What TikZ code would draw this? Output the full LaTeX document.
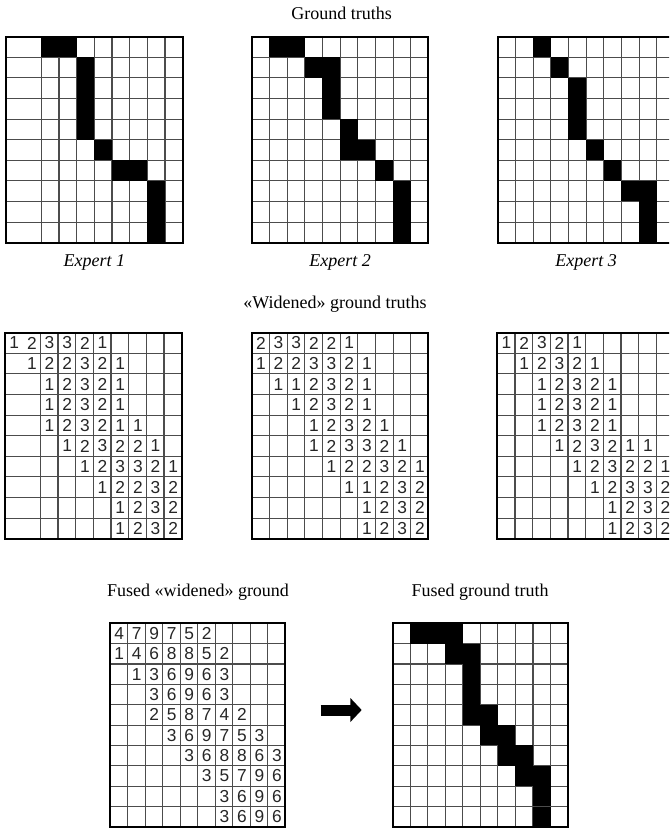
\documentclass[tikz,border=0pt]{standalone}
\usepackage{fontspec}
\setmainfont{Liberation Serif}
\newfontfamily\numfont{Liberation Sans}
\usetikzlibrary{positioning,arrows.meta}

\tikzset{
	gridline/.style={black!70, line width=0.8pt},
	gridframe/.style={black, line width=1.6pt},
	topcells/.style={x=13.25pt,y=-15.45pt},
	botcells/.style={x=13.15pt,y=-15.26pt},
	num/.style={font=\numfont\fontsize{13}{13}\selectfont, inner sep=0pt, text=black!85},
	title/.style={font=\fontsize{13.5}{13.5}\selectfont, inner sep=0pt, anchor=base},
	expert/.style={font=\itshape\fontsize{13.5}{13.5}\selectfont, inner sep=0pt},
	fatarrow/.style={line width=8.25pt, -{Triangle[length=8.5pt,width=17.5pt]}},
}
\newcommand{\cellgrid}[2]{
	\foreach \c in {#1} \draw[gridline] (\c,0) -- (\c,10);
	\foreach \r in {1,...,9} \draw[gridline] (0,\r) -- (10,\r);
	\foreach \r/\c in {#2} \fill (\c,\r) rectangle ++(1,1);
	\draw[gridframe] (0,0) rectangle (10,10);
}
\newcommand{\cellnums}[2]{
	\foreach \r/\s/\vals in {#2} {
		\foreach \v [count=\k from \s] in \vals
			\node[num] (#1-\r-\k) at (\k+.52,\r+.5) {\v};
	}
}

\begin{document}
\begin{tikzpicture}[x=0.75pt,y=-0.75pt]
	\useasboundingbox (0,0) rectangle (669,830);
	\clip (0,0) rectangle (669,830);

	\node[title] (gttitle) at (341.7,20) {Ground truths};
	\node[title] (wtitle) at (335,308.5) {«Widened» ground truths};
	\node[title] (fwtitle) at (198,596.5) {Fused «widened» ground};
	\node[title] (fgtitle) at (480,596) {Fused ground truth};

	\begin{scope}[shift={(6,36.7)},topcells]
		\cellgrid{2,...,9}{0/2,0/3,1/4,2/4,3/4,4/4,5/5,6/6,6/7,7/8,8/8,9/8}
		\coordinate (gt1) at (5,10);
		\node[expert, below=9pt of gt1] (ex1) {Expert 1};
	\end{scope}
	\begin{scope}[shift={(251.7,36.7)},topcells]
		\cellgrid{1,...,9}{0/1,0/2,1/3,1/4,2/4,3/4,4/5,5/5,5/6,6/7,7/8,8/8,9/8}
		\coordinate (gt2) at (5,10);
		\node[expert, below=9pt of gt2] (ex2) {Expert 2};
	\end{scope}
	\begin{scope}[shift={(497.7,36.7)},topcells]
		\cellgrid{1,...,9}{0/2,1/3,2/4,3/4,4/4,5/5,6/6,7/7,7/8,8/8,9/8}
		\coordinate (gt3) at (5,10);
		\node[expert, below=9pt of gt3] (ex3) {Expert 3};
	\end{scope}

	\begin{scope}[shift={(5,332.7)},topcells]
		\cellgrid{2,...,9}{}
		\cellnums{w1}{0/0/{1,2,3,3,2,1}, 1/1/{1,2,2,3,2,1}, 2/2/{1,2,3,2,1}, 3/2/{1,2,3,2,1},
			4/2/{1,2,3,2,1,1}, 5/3/{1,2,3,2,2,1}, 6/4/{1,2,3,3,2,1}, 7/5/{1,2,2,3,2},
			8/6/{1,2,3,2}, 9/6/{1,2,3,2}}
	\end{scope}
	\begin{scope}[shift={(251.7,332.7)},topcells]
		\cellgrid{1,...,9}{}
		\cellnums{w2}{0/0/{2,3,3,2,2,1}, 1/0/{1,2,2,3,3,2,1}, 2/1/{1,1,2,3,2,1}, 3/2/{1,2,3,2,1},
			4/3/{1,2,3,2,1}, 5/3/{1,2,3,3,2,1}, 6/4/{1,2,2,3,2,1}, 7/5/{1,1,2,3,2},
			8/6/{1,2,3,2}, 9/6/{1,2,3,2}}
	\end{scope}
	\begin{scope}[shift={(497.3,332.7)},topcells]
		\cellgrid{1,...,9}{}
		\cellnums{w3}{0/0/{1,2,3,2,1}, 1/1/{1,2,3,2,1}, 2/2/{1,2,3,2,1}, 3/2/{1,2,3,2,1},
			4/2/{1,2,3,2,1}, 5/3/{1,2,3,2,1,1}, 6/4/{1,2,3,2,2,1}, 7/5/{1,2,3,3,2},
			8/6/{1,2,3,2}, 9/6/{1,2,3,2}}
	\end{scope}

	\begin{scope}[shift={(110,623.3)},botcells]
		\cellgrid{1,...,9}{}
		\cellnums{fw}{0/0/{4,7,9,7,5,2}, 1/0/{1,4,6,8,8,5,2}, 2/1/{1,3,6,9,6,3}, 3/2/{3,6,9,6,3},
			4/2/{2,5,8,7,4,2}, 5/3/{3,6,9,7,5,3}, 6/4/{3,6,8,8,6,3}, 7/5/{3,5,7,9,6},
			8/6/{3,6,9,6}, 9/6/{3,6,9,6}}
	\end{scope}
	\begin{scope}[shift={(392.7,623.3)},botcells]
		\cellgrid{1,...,9}{0/1,0/2,0/3,1/3,1/4,2/4,3/4,4/4,4/5,5/5,5/6,6/6,6/7,7/7,7/8,8/8,9/8}
		\draw[gridline] (8,9) -- (9,9);
	\end{scope}

	\coordinate (arrs) at (320.7,710);
	\coordinate (arre) at (361.7,710);
	\draw[fatarrow] (arrs) -- (arre);
\end{tikzpicture}
\end{document}
